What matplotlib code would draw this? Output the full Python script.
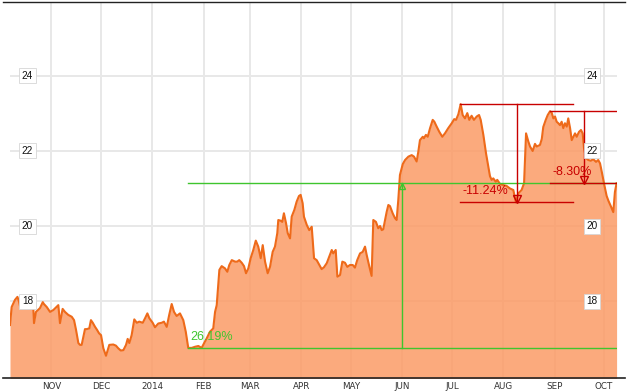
import numpy as np
import pandas as pd
import matplotlib
matplotlib.use("Agg")
import matplotlib.pyplot as plt
from matplotlib.lines import Line2D
from matplotlib.transforms import offset_copy, blended_transform_factory

# ---------------- data ----------------
start_date = pd.Timestamp("2013-10-07")
day_offset = [
    0.0, 1.0, 3.0, 4.5, 5.4, 6.0, 8.5, 10.9, 12.7, 14.1, 14.5, 15.7, 16.9, 18.1, 19.8, 20.5,
    22.2, 24.2, 26.2, 29.2, 30.2, 31.8, 33.2, 35.2, 37.3, 38.7, 39.9, 41.3, 42.3, 43.3, 45.3,
    46.3, 47.9, 48.9, 50.0, 51.4, 52.6, 53.8, 55.0, 56.4, 58.0, 58.9, 60.0, 62.4, 64.0, 65.4,
    66.9, 68.5, 70.1, 71.1, 72.1, 73.5, 75.1, 76.6, 78.1, 80.2, 81.6, 83.0, 84.2, 86.2, 87.6,
    89.6, 91.7, 93.0, 94.7, 96.2, 97.7, 99.1, 100.7, 102.7, 104.7, 106.2, 107.7, 109.8, 111.8,
    113.8, 115.8, 117.2, 118.8, 120.8, 122.8, 123.9, 124.9, 125.9, 126.5, 127.9, 129.9, 131.3,
    132.5, 134.0, 136.0, 137.3, 138.5, 140.0, 141.4, 142.6, 144.0, 145.4, 147.0, 148.5, 150.0,
    151.5, 152.7, 154.1, 155.7, 157.1, 158.7, 160.1, 161.5, 162.1, 163.6, 164.5, 165.5, 166.8,
    167.8, 169.2, 170.2, 171.8, 173.2, 174.6, 175.6, 176.8, 177.6, 179.3, 180.8, 182.3, 183.7,
    185.3, 186.9, 188.3, 189.7, 191.4, 193.3, 194.4, 195.3, 196.8, 197.8, 199.4, 200.8, 202.4,
    203.8, 205.4, 207.1, 208.4, 209.8, 211.5, 213.1, 214.5, 215.5, 216.9, 218.5, 219.5, 221.1,
    222.5, 223.6, 224.6, 225.5, 227.6, 228.6, 229.6, 231.2, 232.6, 233.6, 234.6, 235.6, 237.3,
    238.7, 240.7, 242.7, 244.1, 245.7, 246.7, 247.7, 249.4, 250.1, 251.3, 252.4, 253.8, 255.4,
    256.4, 257.8, 259.4, 261.2, 262.8, 264.8, 266.9, 268.4, 269.5, 270.9, 272.3, 273.5, 274.9,
    276.3, 277.5, 278.9, 280.3, 282.0, 283.4, 284.4, 286.0, 287.6, 289.0, 290.0, 291.0, 292.0,
    293.5, 294.4, 296.1, 298.1, 300.0, 302.1, 304.1, 305.7, 307.1, 309.1, 310.6, 311.8, 313.2,
    314.2, 315.8, 317.2, 318.2, 320.2, 321.3, 322.2, 323.7, 324.9, 326.3, 327.3, 328.3, 329.3,
    330.3, 331.3, 332.3, 333.3, 334.3, 335.3, 336.4, 337.3, 338.4, 339.4, 340.4, 341.4, 342.4,
    343.8, 345.0, 346.0, 346.8, 348.0, 349.4, 350.9, 352.4, 354.1, 355.4, 356.5, 357.7, 359.2,
    360.5, 361.6, 363.1, 364.5, 365.5, 366.5,
]
price = [
    17.36, 17.84, 18.03, 18.11, 17.99, 17.87, 17.92, 17.95, 17.89, 17.81, 17.41, 17.71, 17.76, 17.81, 17.97, 17.92,
    17.84, 17.71, 17.76, 17.89, 17.41, 17.79, 17.71, 17.63, 17.58, 17.49, 17.23, 16.88, 16.83, 16.83, 17.25,
    17.25, 17.27, 17.49, 17.42, 17.31, 17.23, 17.14, 17.09, 16.74, 16.54, 16.67, 16.83, 16.84, 16.81, 16.74,
    16.68, 16.69, 16.83, 16.99, 16.88, 17.09, 17.51, 17.42, 17.45, 17.42, 17.54, 17.67, 17.54, 17.42, 17.30,
    17.40, 17.42, 17.45, 17.31, 17.63, 17.92, 17.71, 17.60, 17.67, 17.49, 17.18, 16.75, 16.75, 16.78,
    16.80, 16.75, 16.87, 17.00, 17.18, 17.27, 17.71, 17.89, 18.47, 18.83, 18.93, 18.87, 18.78,
    18.96, 19.09, 19.05, 19.05, 19.09, 19.02, 18.93, 18.74, 18.87, 19.14, 19.36, 19.61, 19.45,
    19.14, 19.49, 19.05, 18.74, 18.91, 19.31, 19.45, 19.81, 20.16, 20.14, 20.11, 20.34, 20.07,
    19.81, 19.67, 20.25, 20.43, 20.65, 20.80, 20.83, 20.61, 20.25, 20.03, 19.89, 19.98, 19.14,
    19.09, 18.96, 18.85, 18.90, 19.01, 19.23, 19.36, 19.27, 19.36, 18.65, 18.69, 19.05, 19.02,
    18.91, 18.96, 18.96, 18.89, 19.09, 19.27, 19.31, 19.45, 19.23, 18.96, 18.67, 20.16, 20.11,
    19.94, 20.00, 19.89, 19.91, 20.38, 20.56, 20.53, 20.34, 20.21, 20.16, 20.69, 21.36, 21.65,
    21.76, 21.85, 21.89, 21.85, 21.72, 21.98, 22.29, 22.38, 22.34, 22.43, 22.38, 22.61, 22.83,
    22.78, 22.65, 22.51, 22.38, 22.47, 22.61, 22.74, 22.85, 22.83, 22.98, 23.25, 22.96, 22.87,
    23.01, 22.83, 22.94, 22.83, 22.92, 22.96, 22.83, 22.43, 21.94, 21.58, 21.33, 21.23, 21.27,
    21.18, 21.23, 21.12, 21.09, 21.07, 21.00, 20.96, 20.63, 20.87, 20.96, 21.14, 22.47, 22.25,
    22.12, 22.00, 22.19, 22.12, 22.16, 22.32, 22.64, 22.83, 22.96, 23.06, 23.02, 22.87, 22.92,
    22.78, 22.74, 22.69, 22.78, 22.61, 22.74, 22.65, 22.87, 22.61, 22.29, 22.38, 22.47, 22.38,
    22.51, 22.56, 22.47, 22.08, 21.81, 21.76, 21.74, 21.78, 21.71, 21.76, 21.67, 21.41, 21.07,
    20.80, 20.67, 20.52, 20.37, 20.91, 21.14,
]
month_ticks = ["2013-11-01", "2013-12-01", "2014-01-01", "2014-02-01", "2014-03-01", "2014-04-01",
               "2014-05-01", "2014-06-01", "2014-07-01", "2014-08-01", "2014-09-01", "2014-10-01"]
month_labels = ["NOV", "DEC", "2014", "FEB", "MAR", "APR", "MAY", "JUN", "JUL", "AUG", "SEP", "OCT"]
price_ticks = [18, 20, 22, 24]

# measurement annotations (day offsets / prices)
ann_labels = ["26.19%", "-11.24%", "-8.30%"]
ann_from_day = [107.7, 271.9, 326.3]
ann_to_day = [366.7, 340.3, 366.7]
ann_mark_day = [237.0, 306.5, 346.8]
ann_from_price = [16.75, 23.25, 23.06]
ann_to_price = [21.14, 20.63, 21.14]

# ---------------- styling ----------------
GREEN = "#3fc52e"
RED = "#c80000"
ann_colors = [GREEN, RED, RED]
FILL = "#fb9b66"
LINE = "#ee6a1a"

def to_dates(offsets):
    return (start_date + pd.to_timedelta(np.asarray(offsets, dtype=float), unit="D")).values

W, H = 629, 392
fig = plt.figure(figsize=(W / 100, H / 100), dpi=100)
ax = fig.add_axes([10 / W, (H - 378) / H, 607 / W, 376 / H])

x = to_dates(day_offset)
y = np.asarray(price)

ax.set_xlim(to_dates([0.0])[0], to_dates([366.75])[0])
ax.set_ylim(15.947, 25.973)

ax.grid(True, color="#e8e8e8", lw=1.4, zorder=0)
ax.set_axisbelow(True)
ax.fill_between(x, y, 15.0, color=FILL, alpha=0.85, lw=0, zorder=1)
ax.plot(x, y, color=LINE, lw=1.5, zorder=3, solid_joinstyle="round")

ax.set_xticks(pd.to_datetime(month_ticks).values)
ax.set_xticklabels(month_labels)
ax.set_yticks(price_ticks)
ax.tick_params(axis="x", length=0, pad=3.2, labelsize=6.3, labelcolor="#333333")
ax.tick_params(axis="y", left=False, labelleft=False, length=0)
for lab in ax.get_xticklabels():
    lab.set_fontfamily("DejaVu Sans")
for s in ax.spines.values():
    s.set_visible(False)

# price labels in boxes on both sides
trans = blended_transform_factory(ax.transAxes, ax.transData)
for p in price_ticks:
    for xf in (17.5 / 607, 582 / 607):
        ax.text(xf, p, str(p), transform=trans, ha="center", va="center",
                fontsize=7.2, family="Liberation Sans", color="#111111", zorder=6,
                bbox=dict(boxstyle="square,pad=0.25", fc="white", ec="#d6d6d6", lw=0.6))

# measurement annotations
for lab, d0, d1, dm, p0, p1, c in zip(ann_labels, ann_from_day, ann_to_day, ann_mark_day,
                                       ann_from_price, ann_to_price, ann_colors):
    xa, xb, xm = to_dates([d0, d1, dm])
    ax.plot([xa, xb], [p0, p0], color=c, lw=1.0, zorder=4)
    ax.plot([xa, xb], [p1, p1], color=c, lw=1.0, zorder=4)
    ax.plot([xm, xm], [p0, p1], color=c, lw=1.0, zorder=4)
    up = p1 > p0
    tr = offset_copy(ax.transData, fig=fig, x=0, y=(-3 if up else 3), units="dots")
    ax.plot([xm], [p1], marker=("^" if up else "v"), ms=(5 if up else 6), mfc="none",
            mec=c, mew=1.0, transform=tr, zorder=5)
    ax.annotate(lab, xy=(xa, min(p0, p1)), xytext=(2, 11), textcoords="offset pixels",
                ha="left", va="center", fontsize=9, family="Liberation Sans", color=c, zorder=6)

# frame lines
fig.add_artist(Line2D([3 / W, 625 / W], [1 - 2.3 / H] * 2, color="#222222", lw=1.0))
fig.add_artist(Line2D([3 / W, 625 / W], [1 - 378.3 / H] * 2, color="#222222", lw=1.2))

fig.savefig("out.png", dpi=100, facecolor="white")
